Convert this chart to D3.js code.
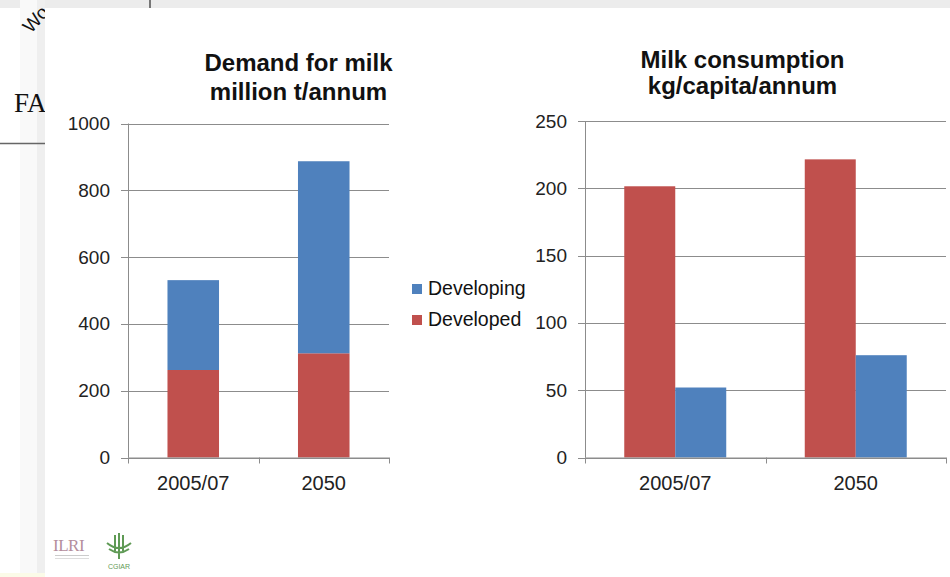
<!DOCTYPE html>
<html><head><meta charset="utf-8">
<script src="https://cdn.jsdelivr.net/npm/d3@7"></script>
<style>
html,body{margin:0;padding:0;background:#fff;}
svg{display:block;font-family:"Liberation Sans",Arial,sans-serif;}
</style></head>
<body>
<svg id="c" width="950" height="577"></svg>
<script>
// ---- data ----
const categories = ["2005/07", "2050"];
const seriesNames = ["Developing", "Developed"];
const demandDeveloped = [262, 312];
const demandDeveloping = [269, 575];
const consumptionDeveloped = [201.5, 221.5];
const consumptionDeveloping = [52, 76];
const demandTicks = [0, 200, 400, 600, 800, 1000];
const consumptionTicks = [0, 50, 100, 150, 200, 250];
const demandTitle = ["Demand for milk", "million t/annum"];
const consumptionTitle = ["Milk consumption", "kg/capita/annum"];

const RED = "#C0504D", BLUE = "#4F81BD", GRID = "#8c8c8c";
const svg = d3.select("#c");

// ---- slide background bits ----
svg.append("rect").attr("x",0).attr("y",0).attr("width",950).attr("height",8).attr("fill","#ececec");
svg.append("rect").attr("x",20).attr("y",0).attr("width",17).attr("height",577).attr("fill","#f9f9f9");
svg.append("rect").attr("x",37).attr("y",0).attr("width",8).attr("height",577).attr("fill","#efefef");
svg.append("rect").attr("x",45).attr("y",8).attr("width",905).attr("height",569).attr("fill","#fff");
svg.append("rect").attr("x",0).attr("y",573).attr("width",45).attr("height",4).attr("fill","#fbfbe8");
svg.append("line").attr("x1",150).attr("x2",150).attr("y1",0).attr("y2",8).attr("stroke","#777").attr("stroke-width",2);
svg.append("line").attr("x1",0).attr("x2",45).attr("y1",143.5).attr("y2",143.5).attr("stroke","#666").attr("stroke-width",1.5);
svg.append("text").attr("x",14).attr("y",112).attr("font-family","'Liberation Serif',serif").attr("font-size",27).attr("fill","#111").text("FA");
svg.append("text").attr("transform","translate(31,34) rotate(-48)").attr("font-size",19).attr("fill","#111").text("Wo");
// chart panel overlaps the slide text
svg.append("rect").attr("x",45).attr("y",8).attr("width",40).attr("height",200).attr("fill","#fff");

// logos
svg.append("text").attr("x",53).attr("y",551).attr("font-family","'Liberation Serif',serif").attr("font-size",17).attr("fill","#b48d9c").attr("letter-spacing",-0.5).text("ILRI");
svg.append("rect").attr("x",55).attr("y",555).attr("width",34).attr("height",1).attr("fill","#ccc");
svg.append("rect").attr("x",55).attr("y",558).attr("width",34).attr("height",1).attr("fill","#ddd");
const cg = svg.append("g").attr("transform","translate(119,547)").attr("fill","none").attr("stroke","#5f9a55").attr("stroke-width",2);
cg.append("path").attr("d","M-12,-4 Q0,6 12,-4 M-10,2 Q0,9 10,2 M0,-14 L0,12 M-4,-12 L-4,4 M4,-12 L4,4");
svg.append("text").attr("x",119).attr("y",569).attr("text-anchor","middle").attr("font-size",7).attr("fill","#5f9a55").text("CGIAR");

// ---- chart helpers ----
function gridAndY(g, y, ticks, left, right) {
  ticks.forEach(t => {
    g.append("line").attr("x1",left-7).attr("x2",right).attr("y1",Math.round(y(t))+0.5).attr("y2",Math.round(y(t))+0.5)
      .attr("stroke",GRID).attr("stroke-width",1);
  });
  const ya = d3.axisLeft(y).tickValues(ticks).tickFormat(d3.format("d")).tickSize(0).tickPadding(18);
  const yg = g.append("g").attr("transform",`translate(${left},0)`).call(ya);
  yg.select(".domain").remove();
  yg.selectAll("text").attr("font-size",19).attr("fill","#222").attr("font-family","'Liberation Sans',Arial,sans-serif");
}
function xAxis(g, x, y, left, right, bottom) {
  g.append("line").attr("x1",left+0.5).attr("x2",left+0.5).attr("y1",y.range()[1]).attr("y2",bottom).attr("stroke",GRID);
  g.append("line").attr("x1",left).attr("x2",right).attr("y1",bottom+0.5).attr("y2",bottom+0.5).attr("stroke",GRID);
  const xa = d3.axisBottom(x).tickSize(0).tickPadding(18);
  const xg = g.append("g").attr("transform",`translate(0,${bottom})`).call(xa);
  xg.select(".domain").remove();
  xg.selectAll("text").attr("font-size",20).attr("fill","#222").attr("font-family","'Liberation Sans',Arial,sans-serif");
  const step = (right-left)/categories.length;
  for (let i=0;i<=categories.length;i++){
    const xx = Math.round(left+i*step)+0.5;
    g.append("line").attr("x1",xx).attr("x2",xx).attr("y1",bottom).attr("y2",bottom+6).attr("stroke",GRID);
  }
}
function title(g, lines, cx, ys) {
  lines.forEach((l,i)=> g.append("text").attr("x",cx).attr("y",ys[i]).attr("text-anchor","middle")
    .attr("font-size",24).attr("font-weight","bold").attr("fill","#111").text(l));
}

// ---- left chart: stacked ----
{
  const left=128, right=389, top=123.5, bottom=457.5;
  const g = svg.append("g");
  const x = d3.scaleBand().domain(categories).range([left,right]).paddingInner(0.605).paddingOuter(0.3025);
  const y = d3.scaleLinear().domain([0,1000]).range([bottom,top]);
  gridAndY(g,y,demandTicks,left,right);
  const rows = categories.map((c,i)=>({cat:c, Developed:demandDeveloped[i], Developing:demandDeveloping[i]}));
  const stack = d3.stack().keys(["Developed","Developing"])(rows);
  const colors = {Developed:RED, Developing:BLUE};
  stack.forEach(s => {
    g.selectAll(null).data(s).enter().append("rect")
      .attr("x",d=>x(d.data.cat)).attr("width",x.bandwidth())
      .attr("y",d=>y(d[1])).attr("height",d=>y(d[0])-y(d[1]))
      .attr("fill",colors[s.key]);
  });
  xAxis(g,x,y,left,right,bottom);
  title(g, demandTitle, 298.5, [71, 100]);
}

// ---- right chart: clustered ----
{
  const left=585, right=946, top=121, bottom=457.5;
  const g = svg.append("g");
  const x = d3.scaleBand().domain(categories).range([left,right]).paddingInner(0.435).paddingOuter(0.2175);
  const sub = d3.scaleBand().domain(["Developed","Developing"]).range([0,x.bandwidth()]);
  const y = d3.scaleLinear().domain([0,250]).range([bottom,top]);
  gridAndY(g,y,consumptionTicks,left,right);
  const rows = categories.map((c,i)=>[
    {cat:c,key:"Developed",v:consumptionDeveloped[i]},
    {cat:c,key:"Developing",v:consumptionDeveloping[i]}]).flat();
  g.selectAll(null).data(rows).enter().append("rect")
    .attr("x",d=>x(d.cat)+sub(d.key)).attr("width",sub.bandwidth())
    .attr("y",d=>y(d.v)).attr("height",d=>y(0)-y(d.v))
    .attr("fill",d=>d.key==="Developed"?RED:BLUE);
  xAxis(g,x,y,left,right,bottom);
  title(g, consumptionTitle, 742.5, [68, 94]);
}

// ---- legend ----
{
  const lg = svg.append("g").attr("transform","translate(412,284)");
  const lc = {Developing:BLUE, Developed:RED};
  seriesNames.forEach((n,i)=>{
    lg.append("rect").attr("x",0).attr("y",i*31).attr("width",10).attr("height",10).attr("fill",lc[n]);
    lg.append("text").attr("x",16).attr("y",i*31+11).attr("font-size",19.5).attr("fill","#111").text(n);
  });
}
</script>
</body></html>
